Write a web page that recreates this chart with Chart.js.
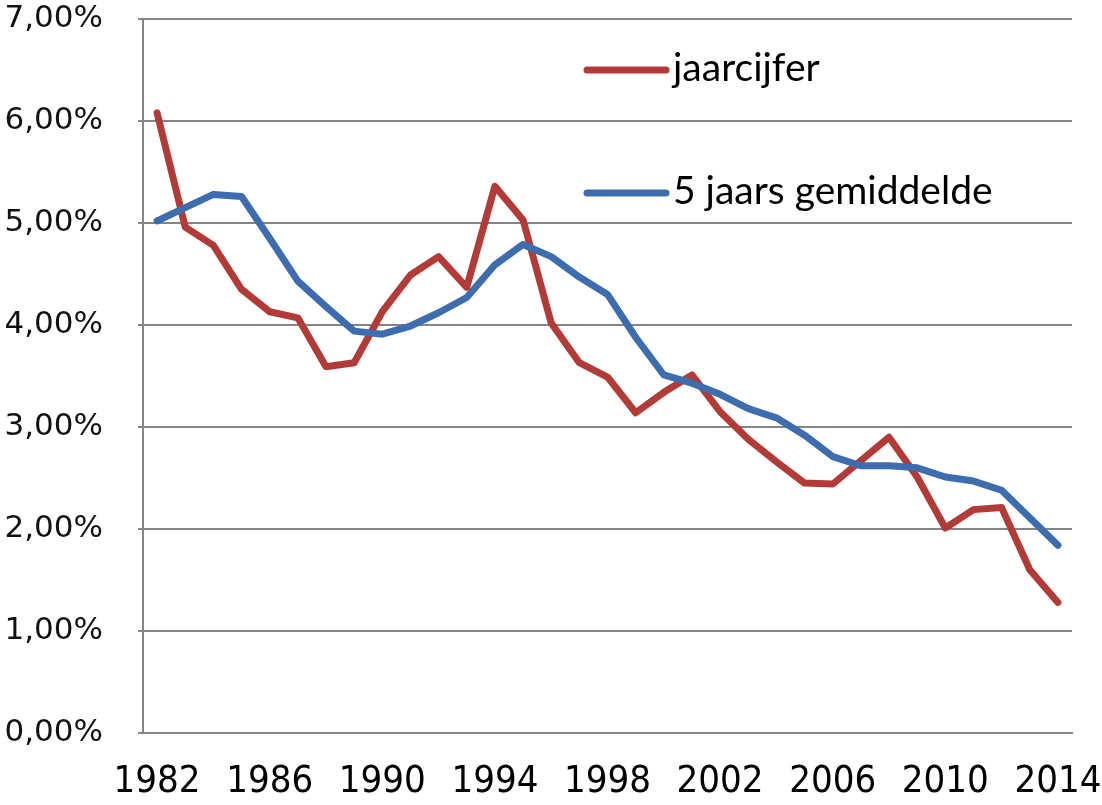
<!DOCTYPE html>
<html>
<head>
<meta charset="utf-8">
<script src="https://cdn.jsdelivr.net/npm/chart.js@4.4.0/dist/chart.umd.min.js"></script>
<style>
  body { margin: 0; background: #fff; }
  #wrap { width: 1102px; height: 805px; }
</style>
</head>
<body>
<div id="wrap"><canvas id="chart" width="1102" height="805"></canvas></div>
<script>
// years 1982..2014
const years = [];
for (let y = 1982; y <= 2014; y++) years.push(String(y));

// jaarcijfer (%)
const jaarcijfer = [6.08, 4.96, 4.78, 4.35, 4.13, 4.07, 3.59, 3.63, 4.13, 4.49,
                    4.67, 4.37, 5.36, 5.03, 4.02, 3.63, 3.49, 3.14, 3.34, 3.51,
                    3.15, 2.88, 2.66, 2.45, 2.44, 2.67, 2.90, 2.51, 2.01, 2.19,
                    2.21, 1.60, 1.28];

// 5 jaars gemiddelde (%)
const gemiddelde = [5.02, 5.15, 5.28, 5.26, 4.85, 4.43, 4.18, 3.94, 3.91, 3.99,
                    4.12, 4.27, 4.59, 4.79, 4.67, 4.47, 4.30, 3.88, 3.51, 3.43,
                    3.32, 3.18, 3.09, 2.92, 2.71, 2.62, 2.62, 2.60, 2.51, 2.47,
                    2.38, 2.11, 1.84];

const legendItems = ['jaarcijfer', '5 jaars gemiddelde'];

const RED = '#B23A37';
const BLUE = '#3E6DAF';
const GRID = '#858585';

// legend drawn inside the plot, like the Excel original
const inPlotLegend = {
    id: 'inPlotLegend',
    afterDraw(chart) {
        const ctx = chart.ctx;
        const rows = [
            { text: legendItems[0], color: RED, y: 70 },
            { text: legendItems[1], color: BLUE, y: 193 }
        ];
        ctx.save();
        ctx.font = '39px Lato, "Open Sans", sans-serif';
        ctx.textBaseline = 'middle';
        ctx.fillStyle = '#000';
        rows.forEach(r => {
            ctx.strokeStyle = r.color;
            ctx.lineWidth = 7;
            ctx.lineCap = 'round';
            ctx.beginPath();
            ctx.moveTo(587, r.y);
            ctx.lineTo(666, r.y);
            ctx.stroke();
            ctx.fillText(r.text, 673, r.y - 2);
        });
        ctx.restore();
    }
};

new Chart(document.getElementById('chart').getContext('2d'), {
    type: 'line',
    data: {
        labels: years,
        datasets: [
            { label: legendItems[0], data: jaarcijfer, borderColor: RED, order: 1 },
            { label: legendItems[1], data: gemiddelde, borderColor: BLUE, order: 0 }
        ]
    },
    options: {
        responsive: false,
        animation: false,
        layout: { padding: { top: 19, right: 30, left: 0, bottom: 0 } },
        elements: {
            line: { borderWidth: 7, tension: 0, fill: false, borderJoinStyle: 'round', borderCapStyle: 'round' },
            point: { radius: 0 }
        },
        plugins: { legend: { display: false }, tooltip: { enabled: false } },
        scales: {
            x: {
                offset: true,
                grid: { display: false, drawTicks: false },
                border: { display: true, color: GRID, width: 2 },
                ticks: {
                    autoSkip: false, maxRotation: 0, padding: 26, color: '#000',
                    font: { family: '"Liberation Sans Narrow", "DejaVu Sans Condensed", sans-serif', size: 38 },
                    callback: function (v, i) { return i % 4 === 0 ? this.getLabelForValue(v) : ''; }
                },
                afterFit: s => { s.height = 72; s.paddingLeft = 0; s.paddingRight = 0; }
            },
            y: {
                min: 0, max: 7,
                grid: { color: GRID, lineWidth: 2, tickLength: 5 },
                border: { display: true, color: GRID, width: 2 },
                ticks: {
                    stepSize: 1, padding: 35, color: '#111',
                    font: { family: '"DejaVu Sans", sans-serif', size: 31 },
                    callback: v => v.toFixed(2).replace('.', ',') + '%'
                },
                afterFit: s => { s.width = 143; s.paddingTop = 0; s.paddingBottom = 0; }
            }
        }
    },
    plugins: [inPlotLegend]
});
</script>
</body>
</html>
